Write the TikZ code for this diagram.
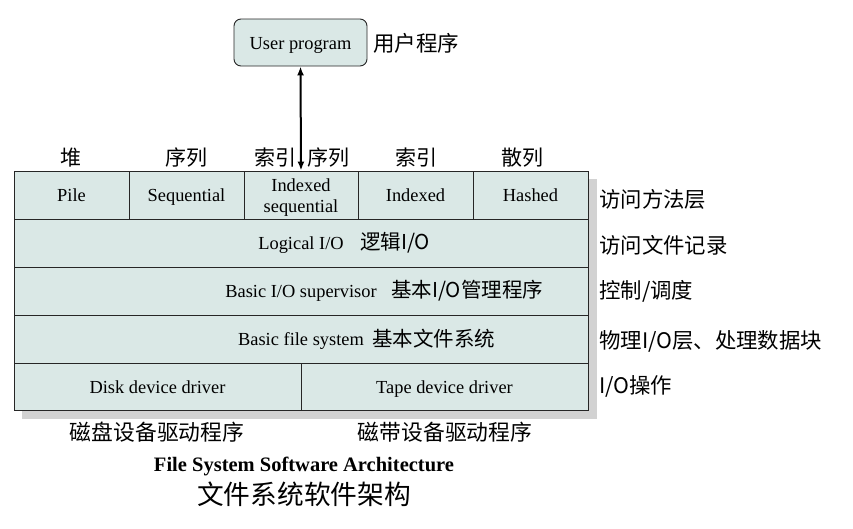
\documentclass[tikz,border=0pt]{standalone}
\usepackage{fontspec}
\setmainfont{Liberation Serif}
\newfontfamily\cjk{Noto Sans CJK SC}
\usetikzlibrary{arrows.meta}
\definecolor{cellfill}{HTML}{DAE8E6}
\definecolor{shadowgray}{HTML}{D2D2D2}
\tikzset{
  cell/.style={draw=black!85, line width=0.9pt, fill=cellfill, inner sep=0pt, align=center,
    text height=13pt, text depth=0pt, font=\fontsize{18.4}{20}\selectfont},
  entext/.style={inner sep=0pt, text height=13pt, text depth=0pt, font=\fontsize{18.4}{20}\selectfont},
  cnlab/.style={inner sep=0pt, font=\cjk\fontsize{21}{23}\selectfont},
  rowcn/.style={inner sep=0pt, anchor=west, font=\cjk\fontsize{20.5}{22}\selectfont},
}
\begin{document}
\begin{tikzpicture}[x=1pt,y=-1pt]
\useasboundingbox (0,0) rectangle (853,528);
% shadow
\fill[shadowgray] (22,179) rectangle (597,419);
% user program
\node[cell, rounded corners=7pt, minimum width=133pt, minimum height=47pt] (user) at (300.5,42.5) {User program};
\node[cnlab, anchor=west, font=\cjk\fontsize{21.5}{23}\selectfont] (usercn) at (373,43) {用户程序};
% top row
\node[cell, minimum width=115pt, minimum height=48pt] (pile) at (71.5,195) {Pile};
\node[cell, minimum width=115pt, minimum height=48pt] (seq) at (186.5,195) {Sequential};
\node[cell, minimum width=114pt, minimum height=48pt] (ixseq) at (301,195) {};
\node[inner sep=0pt, align=center, font=\fontsize{18.4}{21}\selectfont] (ixseqtxt) at (301,197.5) {Indexed\\sequential};
\node[cell, minimum width=115pt, minimum height=48pt] (ix) at (415.5,195) {Indexed};
\node[cell, minimum width=115pt, minimum height=48pt] (hash) at (530.5,195) {Hashed};
% middle rows
\node[cell, minimum width=574pt, minimum height=48pt] (logrow) at (301,243) {};
\node[cell, minimum width=574pt, minimum height=48pt] (suprow) at (301,291) {};
\node[cell, minimum width=574pt, minimum height=48pt] (fsrow) at (301,339) {};
\node[entext] (logen) at (301,243) {Logical I/O};
\node[rowcn] (logcn) at ([xshift=16pt]logen.east) {逻辑I/O};
\node[entext] (supen) at (301,291) {Basic I/O supervisor};
\node[rowcn] (supcn) at ([xshift=14pt]supen.east) {基本I/O管理程序};
\node[entext] (fsen) at (301,339) {Basic file system};
\node[rowcn] (fscn) at ([xshift=8pt]fsen.east) {基本文件系统};
% bottom row
\node[cell, minimum width=287pt, minimum height=47pt] (disk) at (157.5,386.5) {Disk device driver};
\node[cell, minimum width=287pt, minimum height=47pt] (tape) at (444.5,386.5) {Tape device driver};
% arrow
\draw[line width=2pt, {Latex[length=9pt,width=7pt]}-{Latex[length=9pt,width=7pt]}] (user.south) -- (ixseq.north);
% top labels
\node[cnlab] (l1) at (71,158) {堆};
\node[cnlab] (l2) at (186,158) {序列};
\node[cnlab] (l3a) at (275,158) {索引};
\node[cnlab] (l3b) at (328,158) {序列};
\node[cnlab] (l4) at (416,158) {索引};
\node[cnlab] (l5) at (522,158) {散列};
% right labels
\node[cnlab, anchor=west, font=\cjk\fontsize{21.4}{23}\selectfont] (r1) at (599,199) {访问方法层};
\node[cnlab, anchor=west, font=\cjk\fontsize{21.4}{23}\selectfont] (r2) at (599,245) {访问文件记录};
\node[cnlab, anchor=west, font=\cjk\fontsize{21.4}{23}\selectfont] (r3) at (599,291) {控制/调度};
\node[cnlab, anchor=west, font=\cjk\fontsize{21.4}{23}\selectfont] (r4) at (599,341) {物理I/O层、处理数据块};
\node[cnlab, anchor=west, font=\cjk\fontsize{21.4}{23}\selectfont] (r5) at (599,386) {I/O操作};
% bottom labels
\node[cnlab, font=\cjk\fontsize{21.8}{23}\selectfont] (b1) at (157,432) {磁盘设备驱动程序};
\node[cnlab, font=\cjk\fontsize{21.8}{23}\selectfont] (b2) at (445,432) {磁带设备驱动程序};
% title
\node[inner sep=0pt, font=\bfseries\fontsize{20.5}{22}\selectfont] (title) at (304,466) {File System Software Architecture};
\node[inner sep=0pt, font=\cjk\fontsize{26.7}{28}\selectfont] (titlecn) at (304,494) {文件系统软件架构};
\end{tikzpicture}
\end{document}
